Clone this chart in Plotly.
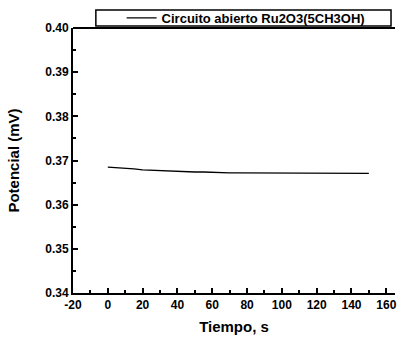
import plotly.graph_objects as go

tiempo = [0, 5, 10, 15, 20, 25, 30, 35, 40, 45, 50, 55, 60, 65, 70, 75, 80, 85, 90, 95, 100,
          105, 110, 115, 120, 125, 130, 135, 140, 145, 150]
potencial = [0.3685, 0.3684, 0.3682, 0.3681, 0.3679, 0.3678, 0.3677, 0.3676, 0.3676, 0.3675,
             0.3674, 0.3674, 0.3673, 0.3673, 0.3672, 0.3672, 0.3672, 0.3672, 0.3671, 0.3671,
             0.3671, 0.3671, 0.3671, 0.3671, 0.3671, 0.3671, 0.3671, 0.3671, 0.3671, 0.3671, 0.3671]
serie = "Circuito abierto Ru2O3(5CH3OH)"
x_ticks = [-20, 0, 20, 40, 60, 80, 100, 120, 140, 160]
x_labels = ["-20", "0", "20", "40", "60", "80", "100", "120", "140", "160"]
y_ticks = [0.34, 0.35, 0.36, 0.37, 0.38, 0.39, 0.40]
y_labels = ["0.34", "0.35", "0.36", "0.37", "0.38", "0.39", "0.40"]

fig = go.Figure()
fig.add_trace(go.Scatter(x=tiempo, y=potencial, mode="lines", name=serie,
                         line=dict(color="black", width=1.3), showlegend=True))

font = dict(family="Liberation Sans, Arial, sans-serif", color="black", size=12)
fig.update_layout(
    width=399, height=340,
    margin=dict(l=73, r=2, t=28, b=47),
    paper_bgcolor="white", plot_bgcolor="white",
    font=font,
    showlegend=True,
    legend=dict(x=0.151, y=1.038, xanchor="left", yanchor="middle",
                borderwidth=0, bgcolor="rgba(0,0,0,0)",
                font=dict(size=13, weight="bold"),
                tracegroupgap=0, itemwidth=30),
)
fig.update_xaxes(range=[-20, 165], tickvals=x_ticks, ticktext=x_labels, ticks="inside", ticklen=5,
                 tickwidth=1.5, tickcolor="black", showline=True, linecolor="black",
                 linewidth=2, showgrid=False, zeroline=False, mirror=False,
                 tickfont=dict(size=12, weight="bold"),
                 minor=dict(dtick=10, tick0=0, ticks="inside", ticklen=3, tickcolor="black"),
                 title=dict(text="Tiempo, s", font=dict(size=15, weight="bold"), standoff=10))
fig.update_yaxes(range=[0.34, 0.40], tickvals=y_ticks, ticktext=y_labels, ticks="inside", ticklen=5,
                 tickwidth=1.5, tickcolor="black", showline=True, linecolor="black",
                 linewidth=2, showgrid=False, zeroline=False,
                 tickfont=dict(size=12, weight="bold"),
                 minor=dict(dtick=0.005, tick0=0.34, ticks="inside", ticklen=3, tickcolor="black"),
                 title=dict(text="Potencial (mV)", font=dict(size=15, weight="bold"), standoff=22))
# top frame line
fig.add_shape(type="line", xref="paper", yref="paper", x0=0, x1=1, y0=1, y1=1,
              line=dict(color="black", width=2))
# legend box
fig.add_shape(type="rect", xref="paper", yref="paper",
              x0=(96 - 73) / 324, x1=(393 - 73) / 324,
              y0=(293 - 26) / 265, y1=(293 - 10) / 265,
              line=dict(color="black", width=1.5), fillcolor="rgba(0,0,0,0)")

fig.write_html("out.html")
